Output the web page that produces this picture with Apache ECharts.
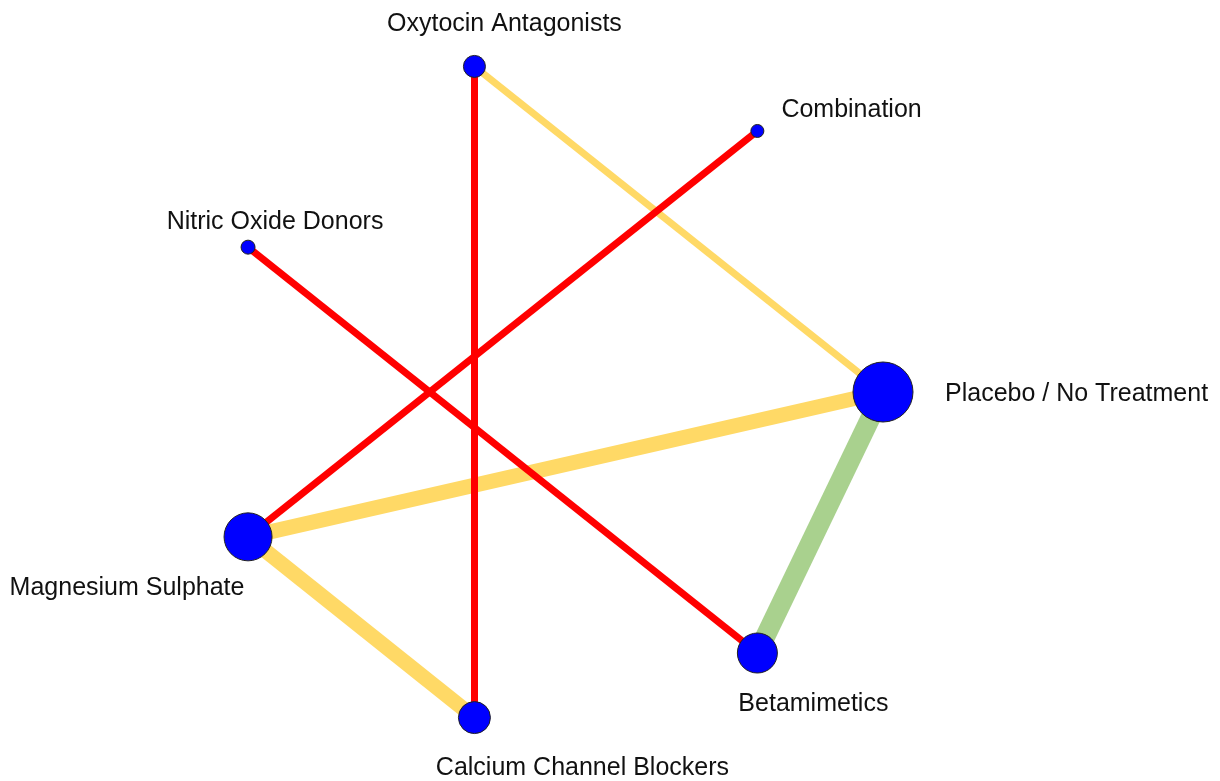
<!DOCTYPE html>
<html>
<head>
<meta charset="utf-8">
<script src="https://cdn.jsdelivr.net/npm/echarts@6/dist/echarts.min.js"></script>
<style>
html,body{margin:0;padding:0;background:#fff;}
#chart{width:1220px;height:781px;}
</style>
</head>
<body>
<div id="chart"></div>
<script>
// Nodes (placed on a circle: angle in degrees, counter-clockwise from the right)
const nodeNames = ["Placebo / No Treatment", "Combination", "Oxytocin Antagonists", "Nitric Oxide Donors", "Magnesium Sulphate", "Calcium Channel Blockers", "Betamimetics"];
const nodeAngles = [0, 51.4, 102.9, 154.3, 205.7, 257.1, 308.6];
const nodeSizes = [60, 13, 22, 14, 48, 32, 40];
// Edges
const edgeSource = ["Oxytocin Antagonists", "Placebo / No Treatment", "Magnesium Sulphate", "Placebo / No Treatment", "Oxytocin Antagonists", "Combination", "Nitric Oxide Donors"];
const edgeTarget = ["Placebo / No Treatment", "Magnesium Sulphate", "Calcium Channel Blockers", "Betamimetics", "Calcium Channel Blockers", "Magnesium Sulphate", "Betamimetics"];
const edgeWidth = [7, 15, 15, 20, 7, 7, 7];
const edgeColor = ["#FFD966", "#FFD966", "#FFD966", "#A9D18E", "#FF0000", "#FF0000", "#FF0000"];

// label placement (style)
const labelStyle = [
  {align: 'left', offset: [62, 2]},
  {align: 'left', offset: [24, -21]},
  {align: 'center', offset: [30, -42]},
  {align: 'center', offset: [27, -25]},
  {align: 'center', offset: [-121, 51]},
  {align: 'center', offset: [108, 51]},
  {align: 'center', offset: [56, 51]}
];

const nodes = nodeNames.map((n, i) => ({
  name: n,
  value: [1, nodeAngles[i]],
  symbolSize: nodeSizes[i],
  label: {
    show: true,
    position: 'inside',
    align: labelStyle[i].align,
    verticalAlign: 'middle',
    offset: labelStyle[i].offset,
    color: '#111',
    fontSize: 25,
    fontFamily: 'Liberation Sans, Arial, sans-serif'
  }
}));
const links = edgeSource.map((s, i) => ({
  source: s,
  target: edgeTarget[i],
  lineStyle: {width: edgeWidth[i], color: edgeColor[i], opacity: 1}
}));

const chart = echarts.init(document.getElementById('chart'));
chart.setOption({
  animation: false,
  backgroundColor: '#fff',
  polar: {center: [549, 392], radius: 334},
  radiusAxis: {type: 'value', min: 0, max: 1, show: false},
  angleAxis: {type: 'value', min: 0, max: 360, startAngle: 0, clockwise: false, show: false},
  series: [{
    type: 'graph',
    coordinateSystem: 'polar',
    symbol: 'circle',
    itemStyle: {color: '#0000FF', borderColor: '#222', borderWidth: 1},
    lineStyle: {curveness: 0},
    emphasis: {disabled: true},
    data: nodes,
    links: links
  }]
});
</script>
</body>
</html>
